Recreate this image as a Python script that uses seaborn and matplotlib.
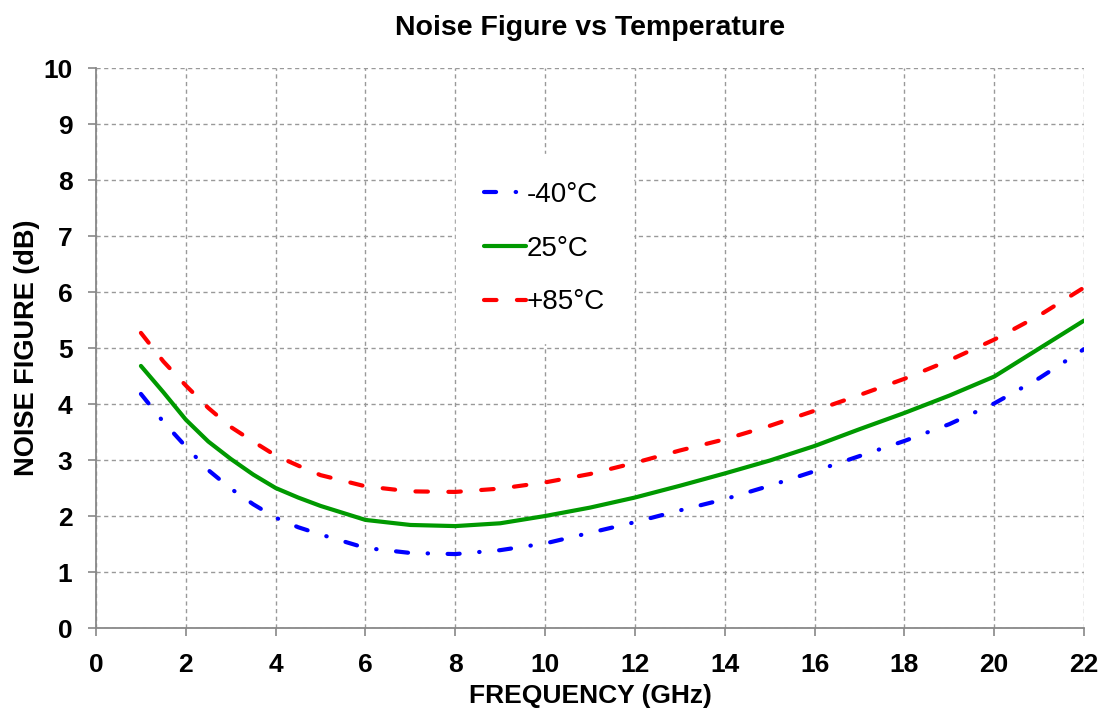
import matplotlib
matplotlib.use("Agg")
import matplotlib.pyplot as plt
import seaborn as sns
import pandas as pd

freq = [1, 1.5, 2, 2.5, 3, 3.5, 4, 4.5, 5, 6, 7, 8, 9, 10, 11, 12, 13, 14, 15,
        16, 17, 18, 19, 20, 21, 22]
nf_m40 = [4.18, 3.68, 3.24, 2.82, 2.49, 2.21, 1.97, 1.80, 1.67, 1.43, 1.34, 1.32,
          1.39, 1.51, 1.70, 1.89, 2.10, 2.30, 2.54, 2.80, 3.07, 3.34, 3.64, 4.01,
          4.46, 4.98]
nf_25 = [4.68, 4.21, 3.72, 3.33, 3.02, 2.74, 2.50, 2.33, 2.18, 1.93, 1.84, 1.82,
         1.87, 2.00, 2.15, 2.33, 2.54, 2.76, 2.99, 3.25, 3.55, 3.84, 4.15, 4.49,
         4.99, 5.49]
nf_p85 = [5.27, 4.76, 4.33, 3.93, 3.59, 3.33, 3.08, 2.90, 2.73, 2.53, 2.44, 2.43,
          2.49, 2.60, 2.75, 2.95, 3.17, 3.37, 3.61, 3.88, 4.16, 4.45, 4.78, 5.15,
          5.58, 6.08]
labels = ["-40°C", "25°C", "+85°C"]
colors = ["#0000ff", "#009900", "#ff0000"]
x_ticks = list(range(0, 23, 2))
y_ticks = list(range(0, 11))

df = pd.concat([
    pd.DataFrame({"freq": freq, "nf": v, "temp": lab})
    for v, lab in zip([nf_m40, nf_25, nf_p85], labels)
])

sns.set_theme(style="white")
plt.rcParams["font.family"] = ["Liberation Sans", "DejaVu Sans"]

fig = plt.figure(figsize=(11.1, 7.16), dpi=100)
ax = fig.add_axes([0.0865, 0.1229, 0.8901, 0.7821])

LW = 3.0
sns.lineplot(data=df, x="freq", y="nf", hue="temp", style="temp",
             hue_order=labels, style_order=labels,
             palette=dict(zip(labels, colors)),
             dashes={labels[0]: (2.9, 4.7, 0.1, 4.7), labels[1]: "", labels[2]: (3.0, 4.9)},
             linewidth=LW, ax=ax, legend="auto")
for ln in ax.lines:
    ln.set_dash_capstyle("round")
    ln.set_solid_capstyle("round")
    ln.set_solid_joinstyle("round")
    ln.set_dash_joinstyle("round")

ax.set_xlim(0, 22)
ax.set_ylim(0, 10)
ax.set_xticks(x_ticks)
ax.set_yticks(y_ticks)
ax.grid(True, color="#999999", linestyle=(0, (3, 2.5)), linewidth=1.0)
for s in ["top", "right"]:
    ax.spines[s].set_visible(False)
for s in ["left", "bottom"]:
    ax.spines[s].set_color("#888888")
    ax.spines[s].set_linewidth(1.3)
ax.tick_params(axis="both", which="major", length=6, width=1.2, color="#888888",
               direction="out", labelsize=19, bottom=True, left=True,
               labelcolor="black")
ax.tick_params(axis="x", pad=12)
ax.tick_params(axis="y", pad=11)
for t in ax.get_xticklabels() + ax.get_yticklabels():
    t.set_fontweight("bold")
ax.set_xlabel("FREQUENCY (GHz)", fontsize=19, fontweight="bold", labelpad=5, color="black")
ax.set_ylabel("NOISE FIGURE (dB)", fontsize=19.5, fontweight="bold", labelpad=2, color="black")
ax.set_title("Noise Figure vs Temperature", fontsize=20.5, fontweight="bold", pad=24, color="black")

handles, _ = ax.get_legend_handles_labels()
leg = ax.legend(handles=handles[-3:], labels=labels,
                loc="upper left", bbox_to_anchor=(0.3505, 0.871), frameon=True,
                fontsize=20, handlelength=1.5, handletextpad=0.05, labelspacing=1.0,
                borderpad=1.0, fancybox=False)
leg.get_frame().set_edgecolor("white")
leg.get_frame().set_facecolor("white")
leg.get_frame().set_alpha(1.0)
for t in leg.get_texts():
    t.set_color("black")
for h in leg.get_lines():
    h.set_linewidth(LW)

fig.savefig("out.png", dpi=100)
